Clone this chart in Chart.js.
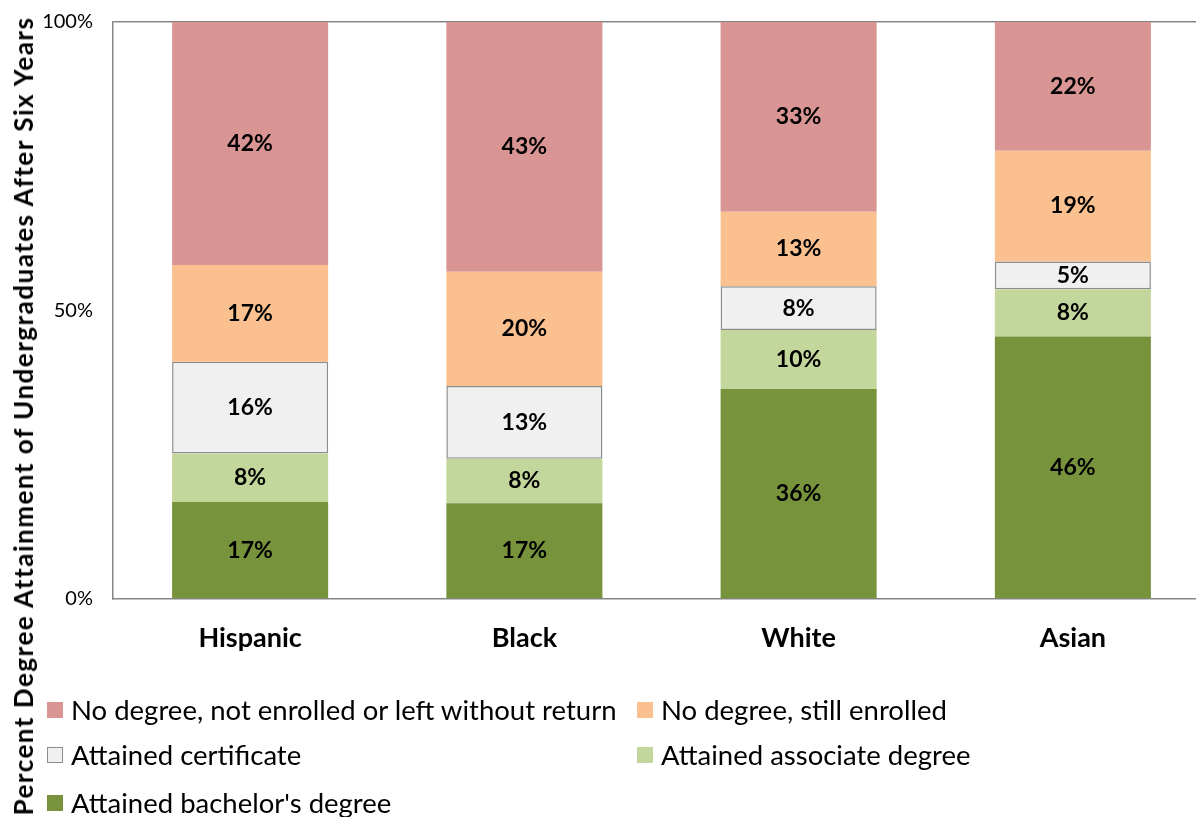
<!DOCTYPE html>
<html lang="en">
<head>
  <meta charset="UTF-8">
  <title>Degree Attainment After Six Years</title>
  <script src="https://cdn.jsdelivr.net/npm/chart.js"></script>
  <style>
    body {
      margin: 0;
      padding: 0;
      background: #fff;
      font-family: Lato, "Open Sans", sans-serif;
      overflow: hidden;
    }
    .wrap {
      position: relative;
      width: 1196px;
      height: 817px;
      overflow: hidden;
    }
    #chartCanvas {
      position: absolute;
      left: 0;
      top: 0;
    }
    .ytitle {
      position: absolute;
      left: 23px;
      top: 416px;
      transform: translate(-50%, -50%) rotate(-90deg);
      white-space: nowrap;
      font-weight: bold;
      font-size: 26px;
      letter-spacing: 1.5px;
      color: #000;
    }
    .legend-item {
      position: absolute;
      display: flex;
      align-items: center;
      font-size: 27.5px;
      color: #000;
      white-space: nowrap;
    }
    .legend-item .box {
      width: 16px;
      height: 16px;
      margin-right: 8px;
      box-sizing: border-box;
    }
  </style>
</head>
<body>
  <div class="wrap">
    <canvas id="chartCanvas" width="1210" height="817"></canvas>
    <div class="ytitle">Percent Degree Attainment of Undergraduates After Six Years</div>
    <div id="legend"></div>
  </div>

  <script>
    // 資料
    const categories = ["Hispanic", "Black", "White", "Asian"];
    const seriesNames = [
      "Attained bachelor's degree",
      "Attained associate degree",
      "Attained certificate",
      "No degree, still enrolled",
      "No degree, not enrolled or left without return"
    ];
    const bachelor = [16.8, 16.6, 36.4, 45.5];
    const associate = [8.4, 7.7, 10.2, 8.2];
    const certificate = [15.9, 12.6, 7.6, 4.8];
    const stillEnrolled = [16.8, 19.8, 12.9, 19.2];
    const noDegree = [42.1, 43.3, 32.9, 22.3];
    const yTicks = [0, 50, 100];

    const seriesValues = [bachelor, associate, certificate, stillEnrolled, noDegree];
    const seriesColors = ["#77933c", "#c3d69b", "#f0f0f0", "#fac090", "#d99594"];
    const fontFamily = "Lato, 'Open Sans', sans-serif";

    const datasets = seriesValues.map((vals, i) => ({
      label: seriesNames[i],
      data: vals,
      backgroundColor: seriesColors[i],
      borderColor: i === 2 ? "#8c8c8c" : seriesColors[i],
      borderWidth: i === 2 ? 1.5 : 0,
      borderSkipped: false,
      barPercentage: 0.569,
      categoryPercentage: 1
    }));

    // 標籤外掛
    const barLabels = {
      id: "barLabels",
      afterDatasetsDraw(chart) {
        const ctx = chart.ctx;
        ctx.save();
        ctx.font = "bold 23px " + fontFamily;
        ctx.fillStyle = "#000";
        ctx.textAlign = "center";
        ctx.textBaseline = "middle";
        chart.data.datasets.forEach((ds, di) => {
          const meta = chart.getDatasetMeta(di);
          meta.data.forEach((bar, i) => {
            const y = (bar.y + bar.base) / 2;
            ctx.fillText(Math.round(ds.data[i]) + "%", bar.x, y);
          });
        });
        ctx.restore();
      }
    };

    const ctx = document.getElementById("chartCanvas").getContext("2d");
    new Chart(ctx, {
      type: "bar",
      data: { labels: categories, datasets: datasets },
      options: {
        responsive: false,
        animation: false,
        layout: { padding: { top: 22, right: 0, left: 0, bottom: 0 } },
        plugins: {
          legend: { display: false },
          tooltip: { enabled: false }
        },
        scales: {
          x: {
            stacked: true,
            grid: { display: false },
            border: { display: true, color: "#868686", width: 1.5 },
            ticks: {
              color: "#000",
              padding: 15,
              font: { family: fontFamily, size: 27, weight: "bold" }
            },
            afterFit(scale) { scale.height = 218; }
          },
          y: {
            stacked: true,
            min: 0,
            max: 100,
            afterBuildTicks(scale) {
              scale.ticks = yTicks.map(v => ({ value: v }));
            },
            grid: {
              drawTicks: false,
              color: c => (c.tick && c.tick.value === 100 ? "#868686" : "rgba(0,0,0,0)"),
              lineWidth: 1.5
            },
            border: { display: true, color: "#868686", width: 1.5 },
            ticks: {
              color: "#000",
              padding: 20,
              font: { family: fontFamily, size: 20 },
              callback: v => v + "%"
            },
            afterFit(scale) {
              scale.width = 113;
              scale.paddingTop = 0;
              scale.paddingBottom = 0;
            }
          }
        }
      },
      plugins: [barLabels]
    });

    // 圖例
    const legendPos = [
      [47, 711], [637, 711],
      [47, 756], [637, 756],
      [47, 804]
    ];
    const legendEl = document.getElementById("legend");
    for (let k = 0; k < seriesNames.length; k++) {
      const i = seriesNames.length - 1 - k;
      const item = document.createElement("div");
      item.className = "legend-item";
      item.style.left = legendPos[k][0] + "px";
      item.style.top = (legendPos[k][1] - 18) + "px";
      const box = document.createElement("span");
      box.className = "box";
      box.style.background = seriesColors[i];
      if (i === 2) box.style.border = "1.5px solid #8c8c8c";
      const txt = document.createElement("span");
      txt.textContent = seriesNames[i];
      item.appendChild(box);
      item.appendChild(txt);
      legendEl.appendChild(item);
    }
  </script>
</body>
</html>
